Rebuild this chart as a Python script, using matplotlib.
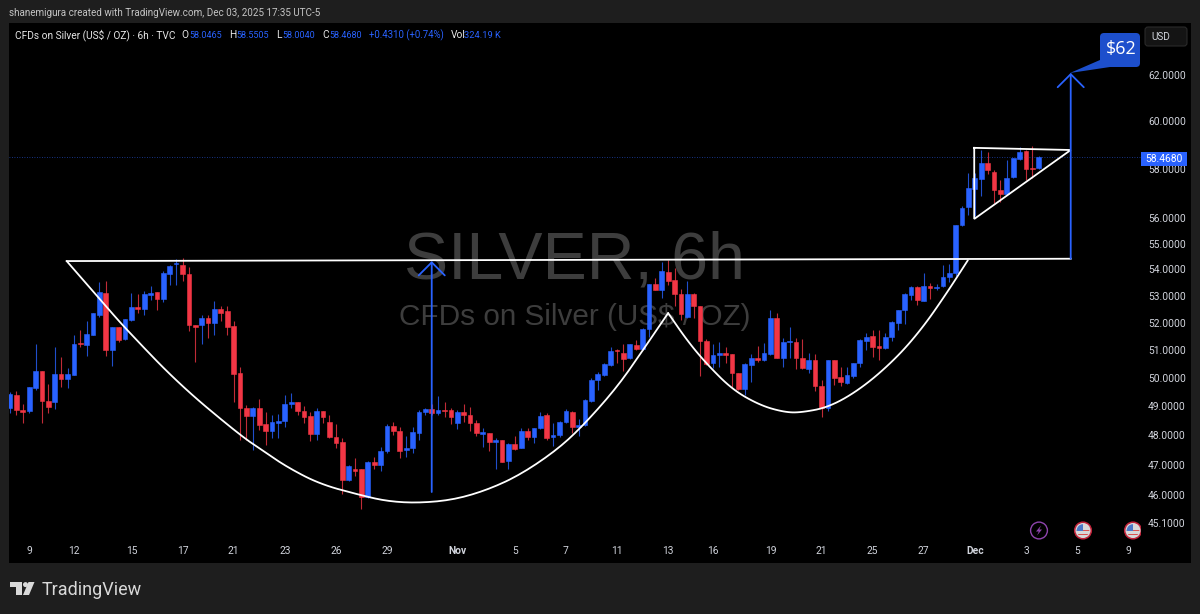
import numpy as np
import matplotlib
matplotlib.use('Agg')
import matplotlib.pyplot as plt
from matplotlib.patches import Rectangle, FancyBboxPatch, Polygon, Circle

# 6h candles
opens = [48.94,49.39,48.86,48.82,49.65,50.24,49.18,49.13,50.13,49.95,
         50.11,51.25,51.19,51.55,52.29,53.11,50.99,51.84,51.38,52.11,
         52.59,52.51,53.01,53.14,52.88,53.81,54.22,54.17,53.82,51.91,
         51.89,52.16,51.99,52.51,52.41,51.86,50.18,48.92,48.67,48.92,
         48.38,48.15,48.43,48.47,49.07,49.13,48.83,48.65,48.03,48.84,
         48.44,47.93,47.76,46.49,46.86,46.86,45.95,47.09,47.01,47.47,
         48.31,48.15,47.49,47.57,48.07,48.79,48.90,48.76,48.86,48.85,
         48.43,48.78,48.68,48.43,48.05,48.09,47.77,47.83,47.13,47.70,
         47.56,48.14,47.94,48.23,48.69,47.94,47.99,48.45,48.80,48.29,
         48.34,49.19,49.92,50.10,50.46,50.99,50.90,50.69,51.19,51.04,
         51.77,53.43,53.21,53.89,53.58,53.08,52.22,53.06,52.60,51.33,
         50.51,50.81,50.88,50.84,50.15,49.59,50.46,50.70,50.63,50.86,
         52.16,50.71,51.30,51.30,50.72,50.32,50.65,49.71,48.95,50.63,
         50.04,49.82,50.06,50.54,51.32,51.50,51.14,51.06,51.46,52.00,
         52.45,53.01,53.33,52.81,53.35,53.30,53.35,53.72,53.85,55.72,
         56.44,57.16,57.59,58.26,57.87,57.13,56.96,57.65,58.40,58.72,
         58.03,58.0465]
highs = [49.51,49.54,49.09,49.67,51.23,50.24,49.78,51.11,50.75,50.33,
         51.54,51.73,52.06,52.35,53.50,53.57,51.84,51.84,52.14,53.10,
         53.06,53.16,53.35,53.14,53.95,54.16,54.41,54.45,54.10,51.91,
         52.26,52.26,52.79,52.62,52.60,52.04,50.39,49.03,48.98,49.26,
         48.80,48.69,48.72,49.39,49.45,49.13,49.00,48.80,48.92,48.84,
         48.68,48.37,47.89,46.99,47.24,46.86,47.12,47.27,47.61,48.37,
         48.45,48.29,47.97,48.29,48.86,48.95,49.09,49.35,49.16,48.92,
         48.86,49.09,48.98,48.52,48.23,48.09,47.92,47.85,47.72,47.97,
         48.23,48.23,48.26,48.78,48.75,48.40,48.49,48.89,48.83,48.57,
         49.25,49.98,50.21,50.51,51.09,51.02,51.23,51.23,51.36,51.79,
         53.45,53.66,54.27,54.36,54.04,53.25,53.54,53.10,52.60,51.38,
         51.20,51.30,51.09,50.84,50.15,50.51,50.84,51.15,51.26,52.45,
         52.35,51.42,51.85,51.42,51.38,50.87,50.84,49.92,50.63,50.63,
         50.39,50.39,50.54,51.38,51.60,51.73,51.73,51.60,52.05,52.48,
         53.10,53.35,53.35,53.87,53.47,53.45,54.16,54.20,55.74,56.47,
         57.81,57.82,58.79,58.68,57.96,57.52,58.38,58.46,58.90,58.76,
         58.93,58.5505]
lows = [48.75,48.69,48.43,48.75,49.57,48.43,48.77,48.89,49.66,49.65,
        50.10,51.09,50.78,51.54,52.22,50.77,50.42,51.30,51.36,52.04,
        52.35,52.26,52.85,52.45,52.75,53.41,53.41,53.54,51.67,50.57,
        51.21,51.42,51.54,52.04,51.54,49.15,47.83,47.83,47.49,48.17,
        47.66,47.92,47.89,48.29,48.92,48.69,48.40,47.80,47.83,48.40,
        47.92,47.57,46.05,46.47,46.64,45.54,45.90,46.87,46.80,47.38,
        48.00,47.24,47.27,47.40,47.85,48.68,48.68,48.68,48.63,48.37,
        48.20,48.46,48.15,47.98,47.61,47.46,46.86,47.08,46.86,47.49,
        47.55,47.83,47.74,48.21,47.83,47.63,47.94,48.43,48.06,47.97,
        48.31,49.15,49.56,50.07,50.42,50.51,50.25,50.66,50.99,51.01,
        51.46,53.20,52.91,53.41,52.60,52.08,52.16,52.16,50.06,50.45,
        50.33,50.39,50.51,49.68,49.56,49.39,49.86,50.57,50.60,50.83,
        50.69,50.37,50.69,50.31,50.30,50.15,49.54,48.63,48.84,49.74,
        49.71,49.78,49.98,50.39,51.00,50.75,50.65,51.04,51.33,51.73,
        51.95,52.85,52.66,52.80,52.89,53.20,53.33,53.53,53.75,55.70,
        56.13,56.07,56.87,57.79,56.60,56.63,56.93,57.62,58.38,57.55,
        57.62,58.004]
closes = [49.42,48.86,48.80,49.66,50.24,49.18,48.97,50.13,49.95,50.13,
          51.23,51.20,51.58,52.35,53.15,50.99,51.84,51.37,52.14,52.59,
          52.49,53.06,53.11,52.88,53.85,54.14,54.25,53.82,51.90,51.84,
          52.16,51.98,52.49,52.36,51.85,50.14,48.92,48.66,48.92,48.34,
          48.15,48.44,48.48,49.07,49.13,48.84,48.62,48.03,48.84,48.61,
          47.93,47.75,46.49,46.97,46.80,45.95,47.10,47.00,47.47,48.32,
          48.13,47.47,47.58,48.10,48.80,48.90,48.76,48.87,48.82,48.62,
          48.79,48.68,48.43,48.06,48.10,47.77,47.83,47.10,47.70,47.54,
          48.15,47.94,48.26,48.67,47.92,47.99,48.44,48.82,48.29,48.34,
          49.22,49.93,50.12,50.49,50.94,50.96,50.67,51.21,51.02,51.77,
          53.43,53.23,53.95,53.54,53.08,52.33,53.06,52.60,51.33,50.49,
          50.81,50.88,50.81,50.15,49.59,50.49,50.69,50.65,50.87,52.16,
          50.71,51.27,51.32,50.70,50.35,50.63,49.71,48.92,50.63,49.98,
          49.84,50.08,50.51,51.36,51.47,51.11,51.07,51.46,52.03,52.46,
          53.06,53.33,52.83,53.35,53.28,53.33,53.72,53.87,55.74,56.40,
          57.21,57.63,58.26,57.93,57.13,56.96,57.62,58.43,58.71,58.01,
          57.99,58.468]

# axis labels
price_ticks = [62, 60, 58, 56, 55, 54, 53, 52, 51, 50, 49, 48, 47, 46, 45.1]
date_pos = [3, 10, 19, 27, 35, 43, 51, 59, 70, 79, 87, 95, 103, 110, 119, 127, 135, 143, 151, 159, 167, 175]
date_labels = ['9', '12', '15', '17', '21', '23', '26', '29', 'Nov', '5', '7', '11',
               '13', '16', '19', '21', '25', '27', 'Dec', '3', '5', '9']

# drawings on the chart: bar index, price
cup_x = [8.87, 14.55, 18.3, 26.6, 36, 39.4, 43.3, 48.5, 54.8, 59, 63.7, 69.3, 74.6, 79.8, 85.6, 89.7, 95, 99, 103]
cup_y = [54.32, 52.73, 51.72, 49.74, 48.0, 47.5, 46.93, 46.36, 46.0, 45.8, 45.74, 45.84, 46.16, 46.66, 47.5, 48.33, 49.66, 50.97, 52.35]
handle_x = [103, 106, 109, 113.1, 117.4, 121, 123.6, 128.3, 133.5, 138.8, 142.9, 146.6, 149.9]
handle_y = [52.35, 51.33, 50.5, 49.57, 49.03, 48.8, 48.77, 48.97, 49.66, 50.72, 51.83, 53.1, 54.35]
neck_x = [8.87, 166]
neck_y = [54.32, 54.41]
flag_x = [150.9, 166, 150.9, 150.9]
flag_y = [58.87, 58.78, 55.97, 58.87]
target_x = 166
target_y = [54.41, 62.09]
depth_x = 66
depth_y = [46.1, 54.32]

BLUE = '#2962ff'
RED = '#f23645'
BG = '#1e1e1e'
TICK = '#d1d4dc'
plt.rcParams['font.family'] = ['Roboto', 'DejaVu Sans']


def smooth(xs, ys, rounds=3):
    # corner cutting so the hand drawn arcs do not look like polylines
    pts = np.column_stack([xs, np.log(ys)])
    for _ in range(rounds):
        a = pts[:-1] * 0.75 + pts[1:] * 0.25
        b = pts[:-1] * 0.25 + pts[1:] * 0.75
        mid = np.empty((len(a) * 2, 2))
        mid[0::2] = a
        mid[1::2] = b
        pts = np.vstack([pts[0], mid, pts[-1]])
    return pts[:, 0], np.exp(pts[:, 1])


fig = plt.figure(figsize=(12, 6.14), dpi=100, facecolor=BG)

# pixel coordinate layer for the TradingView chrome
under = fig.add_axes([0, 0, 1, 1], zorder=0)
under.set_xlim(0, 1200)
under.set_ylim(614, 0)
under.axis('off')
under.add_patch(Rectangle((9, 23), 1182, 540, color='black', lw=0))

ax = fig.add_axes([9 / 1200, 1 - 537 / 614, 1132 / 1200, 514 / 614], zorder=1)
ax.set_facecolor('black')
ax.set_yscale('log')
ax.set_xlim(-0.156, 177.0)
ax.set_ylim(44.65, 64.33)
for s in ax.spines.values():
    s.set_visible(False)

ax.text(88.4, 54.32, 'SILVER, 6h', color='#3d3d3d', fontsize=47.7, family='Liberation Sans',
        ha='center', va='center', zorder=1)
ax.text(88.4, 52.2, 'CFDs on Silver (US$ / OZ)', color='#3d3d3d', fontsize=21.4, family='Liberation Sans',
        ha='center', va='center', zorder=1)

opens_a = np.array(opens)
closes_a = np.array(closes)
idx = np.arange(len(opens))
colors = [BLUE if c >= o else RED for o, c in zip(opens, closes)]
ax.vlines(idx, lows, highs, colors=colors, lw=0.8, alpha=0.8, zorder=2)
ax.bar(idx, np.abs(closes_a - opens_a), bottom=np.minimum(opens_a, closes_a), width=0.74,
       color=colors, edgecolor=colors, lw=0.4, zorder=3)

ax.axhline(closes[-1], color=BLUE, lw=0.6, ls=(0, (1, 2)), alpha=0.7, zorder=2)

cx, cy = smooth(cup_x, cup_y)
ax.plot(cx, cy, color='white', lw=1.3, zorder=4, solid_capstyle='round')
hx, hy = smooth(handle_x, handle_y)
ax.plot(hx, hy, color='white', lw=1.3, zorder=4, solid_capstyle='round')
ax.plot(neck_x, neck_y, color='white', lw=1.3, zorder=4)
ax.plot(flag_x, flag_y, color='white', lw=1.3, zorder=4, solid_joinstyle='miter')

for ax_x, ax_y in [(target_x, target_y), (depth_x, depth_y)]:
    ax.annotate('', xy=(ax_x, ax_y[1]), xytext=(ax_x, ax_y[0]), zorder=5,
                arrowprops=dict(arrowstyle='->,head_length=0.94,head_width=0.94', color=BLUE, lw=1.3,
                                shrinkA=0, shrinkB=0, mutation_scale=10))

ax.yaxis.tick_right()
ax.set_yticks(price_ticks)
ax.set_yticklabels([f'{p:.4f}' for p in price_ticks])
ax.minorticks_off()
ax.tick_params(axis='y', length=0, pad=5, labelsize=7.4, labelcolor=TICK)
ax.set_xticks(date_pos)
ax.set_xticklabels(date_labels)
ax.tick_params(axis='x', length=0, pad=6.5, labelsize=7.4, labelcolor=TICK)
for lab in ax.get_xticklabels():
    if lab.get_text() in ('Nov', 'Dec'):
        lab.set_fontweight('bold')

# layer on top: header, price tag, callout, icons, logo
top = fig.add_axes([0, 0, 1, 1], zorder=2)
top.set_xlim(0, 1200)
top.set_ylim(614, 0)
top.axis('off')

top.text(9, 12.5, 'shanemigura created with TradingView.com, Dec 03, 2025 17:35 UTC-5', color='#c4c4c4',
         fontsize=7.15, va='center')
top.text(15, 35.5, 'CFDs on Silver (US$ / OZ) · 6h · TVC', color='#e6e6e6', fontsize=7.3, va='center')
header_bits = [(181, 'O', '#e6e6e6', 7.3), (189, '58.0465', BLUE, 6.5), (229, 'H', '#e6e6e6', 7.3), (236, '58.5505', BLUE, 6.5),
               (276, 'L', '#e6e6e6', 7.3), (282, '58.0040', BLUE, 6.5), (322, 'C', '#e6e6e6', 7.3), (329, '58.4680', BLUE, 6.5),
               (369, '+0.4310 (+0.74%)', BLUE, 6.9), (451, 'Vol', '#e6e6e6', 7.3), (464, '324.19 K', BLUE, 6.7)]
for hx_pos, txt, col, size in header_bits:
    top.text(hx_pos, 35.5, txt, color=col, fontsize=size, va='center')

top.add_patch(FancyBboxPatch((1145, 27), 42, 19, boxstyle='round,pad=0,rounding_size=3',
                             fc='#141414', ec='#2a2a2a', lw=0.8))
top.text(1151, 36.5, 'USD', color=TICK, fontsize=7.2, va='center')

top.add_patch(Rectangle((1141, 152), 46, 13.5, color=BLUE, lw=0))
top.text(1164, 158.5, f'{closes[-1]:.4f}', color='white', fontsize=7.4, ha='center', va='center')

callout = '#1d4fcc'
top.add_patch(FancyBboxPatch((1100, 33), 40, 34, boxstyle='round,pad=0,rounding_size=4', fc=callout, ec='none'))
top.add_patch(Polygon([(1070, 73), (1100, 60), (1110, 67)], fc=callout, ec='none'))
top.text(1121, 49, '$62', color='white', fontsize=13, ha='center', va='center', family='Open Sans')

# event markers
purple = '#8e44ad'
top.add_patch(Circle((1039, 530.5), 8.4, fc='none', ec=purple, lw=1))
top.add_patch(Polygon([(1041, 525.5), (1036, 531.5), (1038.8, 531.5), (1037, 535.5), (1042, 529.5), (1039.3, 529.5)],
                      fc=purple, ec='none'))
for fx in (1083, 1133):
    clip = Rectangle((fx - 12, 518), 1141 - fx + 12, 26, transform=top.transData)
    ring = Circle((fx, 530.5), 8.3, fc='#d8d8d8', ec='#c2233a', lw=1.1)
    top.add_patch(ring)
    ring.set_clip_path(clip)
    disc = Circle((fx, 530.5), 6.3, transform=top.transData)
    for yy in (529.5, 533.5):
        st = Rectangle((fx - 7, yy), 14, 1.7, color='#d9534f', lw=0)
        top.add_patch(st)
        st.set_clip_path(disc)
    canton = Rectangle((fx - 7, 524), 7, 6.5, color='#4a78c8', lw=0)
    top.add_patch(canton)
    canton.set_clip_path(disc)

# TradingView logo
logo = '#d9d9d9'
top.add_patch(Polygon([(10, 582), (22, 582), (22, 595), (16, 595), (16, 587), (10, 587)], fc=logo, ec='none'))
top.add_patch(Circle((25.5, 584.6), 2.5, fc=logo, ec='none'))
top.add_patch(Polygon([(28.5, 582), (34.5, 582), (29, 595), (23, 595)], fc=logo, ec='none'))
top.text(41.5, 590, 'TradingView', color=logo, fontsize=13, family='Roboto', va='center')

fig.savefig('out.png', dpi=100, facecolor=BG)
